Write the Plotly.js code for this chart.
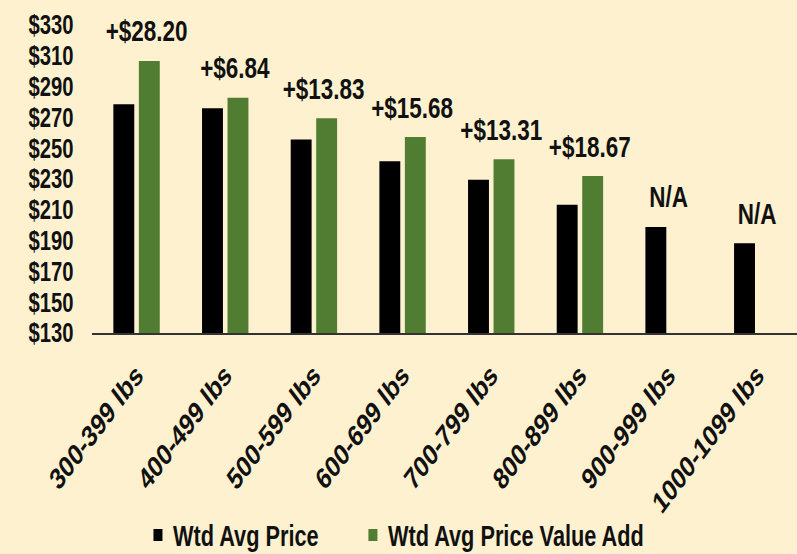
<!DOCTYPE html>
<html>
<head>
<meta charset="utf-8">
<script src="https://cdn.plot.ly/plotly-3.0.1.min.js"></script>
<style>
html,body{margin:0;padding:0;background:#FEF1D0;overflow:hidden;width:797px;height:554px;}
#chart{width:1063px;height:554px;transform:scaleX(0.74976);transform-origin:0 0;}
</style>
</head>
<body>
<div id="chart"></div>
<script>
const categories = ["300-399 lbs","400-499 lbs","500-599 lbs","600-699 lbs","700-799 lbs","800-899 lbs","900-999 lbs","1000-1099 lbs"];
const wtdAvgPrice = [278.5, 276.0, 255.7, 241.5, 229.5, 213.2, 198.9, 188.2];
const wtdAvgPriceValueAdd = [306.7, 282.8, 269.5, 257.2, 242.8, 231.9, null, null];
const diffLabels = ["+$28.20","+$6.84","+$13.83","+$15.68","+$13.31","+$18.67","N/A","N/A"];
const yTickVals = [130,150,170,190,210,230,250,270,290,310,330];
const yTickText = yTickVals.map(v => "$" + v);

const FONT = '"Liberation Sans", Arial, sans-serif';
const FS = 30;
const TXT = {family:FONT, size:FS, color:'#111', weight:700};
const YTXT = {family:FONT, size:27, color:'#111', weight:700};
const LTXT = {family:FONT, size:29, color:'#111', weight:700};

const traces = [
  {type:'bar', name:'Wtd Avg Price', x:categories, y:wtdAvgPrice, marker:{color:'#000000'}, legend:'legend'},
  {type:'bar', name:'Wtd Avg Price Value Add', x:categories, y:wtdAvgPriceValueAdd, marker:{color:'#507D32'}, legend:'legend2'}
];

const annotations = categories.map((c,i) => {
  const hasVA = wtdAvgPriceValueAdd[i] !== null;
  const top = hasVA ? wtdAvgPriceValueAdd[i] : wtdAvgPrice[i];
  return {
    x: c, y: top, xref:'x', yref:'y', text: diffLabels[i], showarrow:false,
    xanchor:'center', yanchor:'middle', yshift: 30, xshift: hasVA ? 13 : 0,
    font:TXT
  };
});

const legendBase = {orientation:'h', xanchor:'left', y:-0.656, yanchor:'middle',
  font:LTXT, bgcolor:'rgba(0,0,0,0)'};

const layout = {
  width:1063, height:554,
  paper_bgcolor:'#FEF1D0', plot_bgcolor:'#FEF1D0',
  margin:{l:123, r:0, t:25, b:221, pad:0, autoexpand:false},
  barmode:'group', bargap:0.425, bargroupgap:0.18,
  showlegend:true,
  legend:Object.assign({}, legendBase, {x:0.072}),
  legend2:Object.assign({}, legendBase, {x:0.377}),
  xaxis:{type:'category', range:[-0.5, 7.448], showline:true, linecolor:'#333', linewidth:1.5,
         showgrid:false, zeroline:false, ticks:'', tickangle:-45, ticklabelstandoff:11,
         tickfont:TXT, fixedrange:true, automargin:false},
  yaxis:{range:[130,330], tickvals:yTickVals, ticktext:yTickText, showline:false, showgrid:false,
         zeroline:false, ticks:'', ticklabelstandoff:24,
         tickfont:YTXT, fixedrange:true, automargin:false},
  annotations: annotations
};

Plotly.newPlot('chart', traces, layout, {staticPlot:true, displayModeBar:false});
</script>
</body>
</html>
